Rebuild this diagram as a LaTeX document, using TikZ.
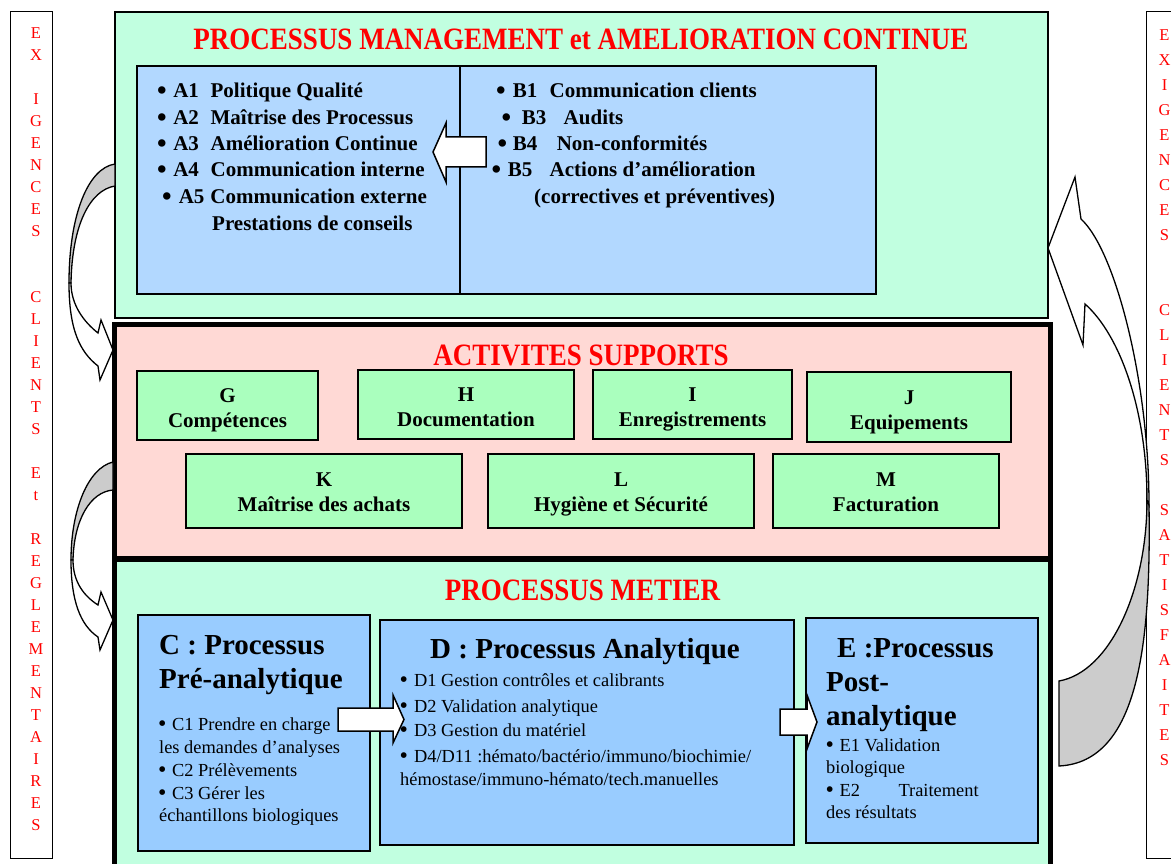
\documentclass[tikz,border=0pt]{standalone}
\usepackage{fontspec}
\setmainfont{Liberation Serif}
\usepackage{color}

\definecolor{mint}{RGB}{193,255,224}
\definecolor{suppink}{RGB}{255,217,213}
\definecolor{supgreen}{RGB}{170,255,190}
\definecolor{polblue}{RGB}{178,216,255}
\definecolor{procblue}{RGB}{153,204,255}
\definecolor{ribgray}{RGB}{204,204,204}

\tikzset{
  frame/.style={draw, inner sep=0pt, outer sep=0pt, anchor=north west},
  colbox/.style={frame, line width=1pt, fill=white},
  mgmtbox/.style={frame, line width=1.5pt, fill=mint},
  thickbox/.style={frame, line width=5pt},
  polbox/.style={frame, line width=1.5pt, fill=polblue},
  procbox/.style={frame, line width=2pt, fill=procblue},
  supbox/.style={frame, line width=1.5pt, fill=supgreen, align=center,
    text depth=0pt, font=\fontsize{21}{25}\selectfont\bfseries},
  ttl/.style={inner sep=0pt, anchor=base, text=red,
    font=\fontsize{27}{32}\selectfont\bfseries},
  vcol/.style={inner sep=0pt, anchor=north, align=center, text=red},
  aitem/.style={inner sep=0pt, anchor=base west,
    font=\fontsize{21}{26}\selectfont\bfseries},
  phead/.style={inner sep=0pt, anchor=base west,
    font=\fontsize{29}{34}\selectfont\bfseries},
  pitem/.style={inner sep=0pt, anchor=base west,
    font=\fontsize{18.4}{22}\selectfont},
  blockarrow/.style={draw, line width=1.5pt, fill=white, line join=miter},
  ribback/.style={draw, line width=1.3pt, fill=ribgray},
  ribfront/.style={draw, line width=1.3pt, fill=white, line join=miter}
}

\newcommand{\bul}{\raisebox{-0.08em}{\scalebox{1.3}{\textbullet}}}
\newcommand{\lblrow}[3]{\bul\hspace{#1}\makebox[#2][l]{#3}}
\newcommand{\bigttl}[1]{\scalebox{1}[1.15]{#1}}

\begin{document}
\begin{tikzpicture}[x=1pt,y=-1pt]
  \clip (0,0) rectangle (1171,864);
  \fill[white] (0,0) rectangle (1171,864);

  % side columns
  \node[colbox, minimum width=42, minimum height=846] (leftcol) at (10,12) {};
  \node[colbox, minimum width=50, minimum height=846] (rightcol) at (1146,12) {};
  \node[vcol, font=\fontsize{16.5}{22}\selectfont] (lefttxt) at (36,27.5)
    {E\\X\\[22pt]I\\G\\E\\N\\C\\E\\S\\[44pt]C\\L\\I\\E\\N\\T\\S\\[22pt]E\\t\\[22pt]R\\E\\G\\L\\E\\M\\E\\N\\T\\A\\I\\R\\E\\S};
  \node[vcol, font=\fontsize{16.5}{25}\selectfont] (righttxt) at (1164.5,29.5)
    {E\\X\\I\\G\\E\\N\\C\\E\\S\\[50pt]C\\L\\I\\E\\N\\T\\S\\[25pt]S\\A\\T\\I\\S\\F\\A\\I\\T\\E\\S};

  % management
  \node[mgmtbox, minimum width=933, minimum height=306] (mgmt) at (115,12) {};
  \node[ttl] (mgmttitle) at (581,50) {\bigttl{PROCESSUS MANAGEMENT et AMELIORATION CONTINUE}};
  \node[polbox, minimum width=323, minimum height=228] (polA) at (137,66) {};
  \node[polbox, minimum width=416, minimum height=228] (polB) at (460,66) {};

  \node[aitem] (a1) at (157,98) {\lblrow{6.5pt}{37.4pt}{A1}Politique Qualité};
  \node[aitem] (a2) at (157,124.5) {\lblrow{6.5pt}{37.4pt}{A2}Maîtrise des Processus};
  \node[aitem] (a3) at (157,151) {\lblrow{6.5pt}{37.4pt}{A3}Amélioration Continue};
  \node[aitem] (a4) at (157,177) {\lblrow{6.5pt}{37.4pt}{A4}Communication interne};
  \node[aitem] (a5) at (162,203.5) {\lblrow{7pt}{31.7pt}{A5}Communication externe};
  \node[aitem] (a5b) at (212,230) {Prestations de conseils};

  \node[aitem] (b1) at (496,98) {\lblrow{7pt}{37pt}{B1}Communication clients};
  \node[aitem] (b3) at (501.5,124.5) {\lblrow{10.5pt}{42pt}{B3}Audits};
  \node[aitem] (b4) at (497.5,151) {\lblrow{5.5pt}{44pt}{B4}Non-conformités};
  \node[aitem] (b5) at (491.5,177) {\lblrow{6.5pt}{42pt}{B5}Actions d’amélioration};
  \node[aitem] (b5b) at (534,203.5) {(correctives et préventives)};

  \draw[blockarrow] (486,137) -- (446,137) -- (446,123) -- (433,152)
    -- (446,182) -- (446,167) -- (486,167) -- cycle;

  % supports
  \node[thickbox, fill=suppink, minimum width=936.5, minimum height=233.5] (supp) at (114,324.5) {};
  \node[ttl] (supptitle) at (581,365) {\bigttl{ACTIVITES SUPPORTS}};
  \node[supbox, minimum width=181, minimum height=69, text height=44pt] (sG) at (137,371) {G\\Compétences};
  \node[supbox, minimum width=216, minimum height=69, text height=44pt] (sH) at (358,370) {H\\Documentation};
  \node[supbox, minimum width=199, minimum height=69, text height=44pt] (sI) at (593,370) {I\\Enregistrements};
  \node[supbox, minimum width=204, minimum height=70, text height=44pt] (sJ) at (807,372) {J\\Equipements};
  \node[supbox, minimum width=276, minimum height=74, text height=41pt] (sK) at (186,454) {K\\Maîtrise des achats};
  \node[supbox, minimum width=266, minimum height=74, text height=41pt] (sL) at (488,454) {L\\Hygiène et Sécurité};
  \node[supbox, minimum width=226, minimum height=74, text height=41pt] (sM) at (773,454) {M\\Facturation};

  % metier
  \node[thickbox, fill=mint, minimum width=936.5, minimum height=321] (metier) at (114,559) {};
  \node[ttl] (metiertitle) at (582.5,600.7) {\bigttl{PROCESSUS METIER}};
  \node[procbox, minimum width=232, minimum height=236] (pC) at (138,615) {};
  \node[procbox, minimum width=414, minimum height=225] (pD) at (380,620) {};
  \node[procbox, minimum width=232, minimum height=225] (pE) at (806,618) {};

  \node[phead] (chead) at (159,654) {C : Processus};
  \node[phead] (cheadb) at (159,688) {Pré-analytique};
  \node[pitem] (c1) at (158,730) {\bul\hspace{5.5pt}C1 Prendre en charge};
  \node[pitem] (c1b) at (159,753) {les demandes d’analyses};
  \node[pitem] (c2) at (158,776) {\bul\hspace{5.5pt}C2 Prélèvements};
  \node[pitem] (c3) at (158,799) {\bul\hspace{5.5pt}C3 Gérer les};
  \node[pitem] (c3b) at (159,821) {échantillons biologiques};

  \node[phead] (dhead) at (430,658) {D : Processus Analytique};
  \node[pitem] (d1) at (399.5,686) {\bul\hspace{6pt}D1 Gestion contrôles et calibrants};
  \node[pitem] (d2) at (399.5,712) {\bul\hspace{6pt}D2 Validation analytique};
  \node[pitem] (d3) at (399.5,736.5) {\bul\hspace{6pt}D3 Gestion du matériel};
  \node[pitem] (d4) at (399.5,762.5) {\bul\hspace{6pt}D4/D11 :hémato/bactério/immuno/biochimie/};
  \node[pitem] (d4b) at (400,785) {hémostase/immuno-hémato/tech.manuelles};

  \node[phead] (ehead) at (837,657) {E :Processus};
  \node[phead] (eheadb) at (826,691) {Post-};
  \node[phead] (eheadc) at (826,725) {analytique};
  \node[pitem] (e1) at (825.5,751) {\bul\hspace{5.5pt}E1 Validation};
  \node[pitem] (e1b) at (826,773) {biologique};
  \node[pitem] (e2) at (825.5,796) {\lblrow{5.5pt}{59pt}{E2}Traitement};
  \node[pitem] (e2b) at (826,818) {des résultats};

  \draw[blockarrow] (338,708) -- (393,708) -- (393,695) -- (404,719.5)
    -- (393,743) -- (393,731) -- (338,731) -- cycle;
  \draw[blockarrow] (780,709) -- (807,709) -- (807,695) -- (817,722)
    -- (807,749) -- (807,735) -- (780,735) -- cycle;

  % curved ribbons, left side
  \filldraw[ribback] (115,164) .. controls (88,168) and (69,215) .. (69,283)
    -- (71,283) .. controls (72,225) and (90,190) .. (115,186) -- cycle;
  \filldraw[ribfront] (69,283) .. controls (69,330) and (80,352) .. (98,366)
    -- (100,380) -- (113,350) -- (101,320) -- (98,333)
    .. controls (84,322) and (71,305) .. (71,283) -- cycle;

  \filldraw[ribback] (113,462) .. controls (88,468) and (71,510) .. (71,560)
    -- (73,560) .. controls (74,520) and (90,492) .. (113,490) -- cycle;
  \filldraw[ribfront] (71,560) .. controls (71,600) and (80,625) .. (98,637)
    -- (100,650) -- (113,620) -- (101,592) -- (98,605)
    .. controls (84,596) and (73,582) .. (73,560) -- cycle;

  % curved ribbon, right side
  \filldraw[ribback] (1059,681) .. controls (1110,672) and (1147,590) .. (1147,500)
    -- (1149,505) .. controls (1151,640) and (1140,762) .. (1059,766) -- cycle;
  \filldraw[ribfront] (1147,500) .. controls (1147,410) and (1120,335) .. (1085,304)
    -- (1083,345) -- (1048,248) -- (1075,177) -- (1081,219)
    .. controls (1115,250) and (1149,380) .. (1149,505) -- cycle;
\end{tikzpicture}
\end{document}
